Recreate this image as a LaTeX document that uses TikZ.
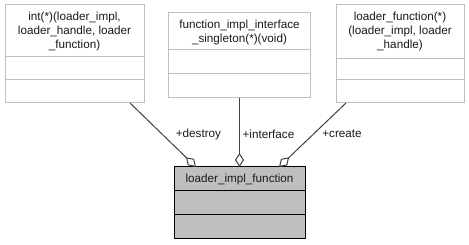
\documentclass[tikz,border=0pt]{standalone}
\usepackage{fontspec}
\setmainfont{Liberation Sans}
\usetikzlibrary{arrows.meta,calc}
\definecolor{boxgrey}{HTML}{BFBFBF}
\definecolor{linkgrey}{HTML}{404040}
\definecolor{textgrey}{HTML}{1A1A1A}
\begin{document}
\begin{tikzpicture}[x=1pt,y=-1pt,
  font=\fontsize{11.7}{14}\selectfont,
  every node/.style={text=textgrey, inner sep=0pt, outer sep=0pt},
  memberbox/.style={draw=boxgrey, line width=1pt, fill=white, anchor=north west},
  mainbox/.style={draw=black, line width=1pt, fill=boxgrey, anchor=north west},
  divider/.style={draw=boxgrey, line width=1pt},
  maindivider/.style={draw=black, line width=1pt},
  caption/.style={align=center},
  assoc/.style={draw=linkgrey, line width=1pt,
    {Diamond[length=14pt,width=9pt,fill=white,line width=1pt]}-}
]
\useasboundingbox (0,0) rectangle (469,245);

% member type boxes
\node[memberbox, minimum width=139pt, minimum height=98pt] (destroyT) at (5,5) {};
\draw[divider] ($(destroyT.north west)+(0,52)$) -- ($(destroyT.north east)+(0,52)$);
\draw[divider] ($(destroyT.north west)+(0,75)$) -- ($(destroyT.north east)+(0,75)$);
\node[caption] (destroyName) at (74.5,31) {int(*)(loader\_impl,\\loader\_handle, loader\\\_function)};

\node[memberbox, minimum width=142pt, minimum height=85pt] (ifaceT) at (168.5,13) {};
\draw[divider] ($(ifaceT.north west)+(0,37)$) -- ($(ifaceT.north east)+(0,37)$);
\draw[divider] ($(ifaceT.north west)+(0,61)$) -- ($(ifaceT.north east)+(0,61)$);
\node[caption] (ifaceName) at (239.5,32) {function\_impl\_interface\\\_singleton(*)(void)};

\node[memberbox, minimum width=128pt, minimum height=98pt] (createT) at (336,5) {};
\draw[divider] ($(createT.north west)+(0,54)$) -- ($(createT.north east)+(0,54)$);
\draw[divider] ($(createT.north west)+(0,75)$) -- ($(createT.north east)+(0,75)$);
\node[caption] (createName) at (400,31) {loader\_function(*)\\(loader\_impl, loader\\\_handle)};

% the class itself
\node[mainbox, minimum width=131pt, minimum height=72pt] (impl) at (174,167) {};
\draw[maindivider] ($(impl.north west)+(0,24)$) -- ($(impl.north east)+(0,24)$);
\draw[maindivider] ($(impl.north west)+(0,48)$) -- ($(impl.north east)+(0,48)$);
\node[caption] (implName) at (239.5,179) {loader\_impl\_function};

% aggregation links
\draw[assoc] ($(impl.north west)+(22,0)$) -- ($(destroyT.south west)+(125,0)$);
\draw[assoc] (impl.north) -- (ifaceT.south);
\draw[assoc] ($(impl.north east)+(-26,0)$) -- ($(createT.south west)+(10,0)$);

\node (labDestroy) at (198.5,134) {+destroy};
\node (labIface) at (268.5,134) {+interface};
\node (labCreate) at (342,134) {+create};
\end{tikzpicture}
\end{document}
